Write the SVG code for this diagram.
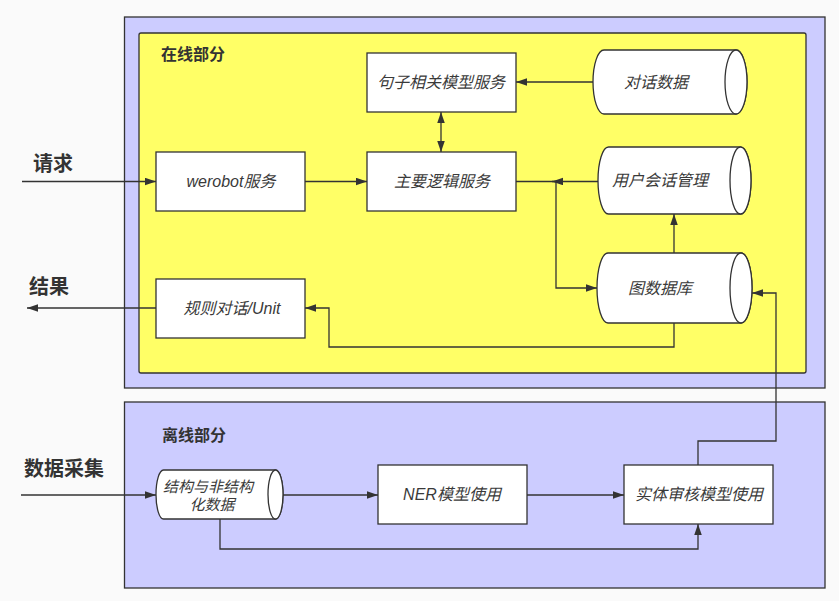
<svg xmlns="http://www.w3.org/2000/svg" width="839" height="601" viewBox="0 0 839 601">
  <defs>
    <style>
      .container { fill: #CCCCFF; stroke: #333333; stroke-width: 1.3; }
      .inner { fill: #FFFF66; stroke: #333333; stroke-width: 1.3; }
      .box { fill: #FFFFFF; stroke: #333333; stroke-width: 1.3; }
      .edge { fill: none; stroke: #333333; stroke-width: 1.3; }
      .label { font-family: "Liberation Sans", "Noto Sans CJK SC", sans-serif; font-size: 16px; font-style: italic; fill: #3a3a3a; text-anchor: middle; }
      .title { font-family: "Noto Sans CJK SC", "Liberation Sans", sans-serif; font-size: 16px; font-weight: bold; fill: #333333; }
      .side { font-family: "Noto Sans CJK SC", "Liberation Sans", sans-serif; font-size: 20px; font-weight: bold; fill: #333333; }
    </style>
    <marker id="arrow" markerUnits="userSpaceOnUse" markerWidth="12" markerHeight="8" refX="11" refY="3.75" orient="auto-start-reverse">
      <path d="M0,0 L11,3.75 L0,7.5 Z" fill="#333333"/>
    </marker>
  </defs>

  <rect x="0" y="0" width="839" height="601" fill="#FAFAFA"/>

  <!-- containers -->
  <g id="online-container">
    <rect class="container" x="124.5" y="17" width="700.5" height="371"/>
    <rect class="inner" x="139" y="33" width="667" height="340" rx="2" ry="2"/>
    <text class="title" x="161" y="60">在线部分</text>
  </g>
  <g id="offline-container">
    <rect class="container" x="124.5" y="402" width="700.5" height="186"/>
    <text class="title" x="162" y="441">离线部分</text>
  </g>

  <!-- side labels -->
  <g id="label-request"><text class="side" x="33" y="171">请求</text></g>
  <g id="label-result"><text class="side" x="29" y="294">结果</text></g>
  <g id="label-collect"><text class="side" x="24" y="476">数据采集</text></g>

  <!-- connectors -->
  <g id="connectors">
    <path class="edge" d="M22,181.5 L156,181.5" marker-end="url(#arrow)"/>
    <path class="edge" d="M305,181.5 L367,181.5" marker-end="url(#arrow)"/>
    <path class="edge" d="M441,112 L441,152" marker-start="url(#arrow)" marker-end="url(#arrow)"/>
    <path class="edge" d="M593,82 L516,82" marker-end="url(#arrow)"/>
    <path class="edge" d="M598,181.5 L552,181.5" marker-end="url(#arrow)"/>
    <path class="edge" d="M516,181.5 L556,181.5 L556,288 L597,288" marker-end="url(#arrow)"/>
    <path class="edge" d="M674,253 L674,214" marker-end="url(#arrow)"/>
    <path class="edge" d="M674,323 L674,347 L329,347 L329,308 L305,308" marker-end="url(#arrow)"/>
    <path class="edge" d="M156,308 L27,308" marker-end="url(#arrow)"/>
    <path class="edge" d="M698,465 L698,441 L776,441 L776,293 L752,293" marker-end="url(#arrow)"/>
    <path class="edge" d="M21,495 L156,495" marker-end="url(#arrow)"/>
    <path class="edge" d="M283,495 L378,495" marker-end="url(#arrow)"/>
    <path class="edge" d="M527,495 L624,495" marker-end="url(#arrow)"/>
    <path class="edge" d="M220,519 L220,549 L698,549 L698,524" marker-end="url(#arrow)"/>
  </g>

  <!-- nodes -->
  <g id="sentence-model">
    <rect class="box" x="367" y="53" width="149" height="59"/>
    <text class="label" x="441" y="88">句子相关模型服务</text>
  </g>
  <g id="werobot">
    <rect class="box" x="156" y="152" width="149" height="59"/>
    <text class="label" x="231" y="187">werobot服务</text>
  </g>
  <g id="main-logic">
    <rect class="box" x="367" y="152" width="149" height="59"/>
    <text class="label" x="442" y="187">主要逻辑服务</text>
  </g>
  <g id="rule-dialog">
    <rect class="box" x="156" y="279" width="149" height="59"/>
    <text class="label" x="232" y="314">规则对话/Unit</text>
  </g>
  <g id="dialog-data">
    <path class="box" d="M604,50 L736,50 A11,32 0 0 1 736,114 L604,114 A11,32 0 0 1 604,50 Z"/>
    <ellipse class="box" cx="736" cy="82" rx="11" ry="32"/>
    <text class="label" x="656" y="88">对话数据</text>
  </g>
  <g id="session-mgmt">
    <path class="box" d="M608.5,147 L740.5,147 A10.5,33.5 0 0 1 740.5,214 L608.5,214 A10.5,33.5 0 0 1 608.5,147 Z"/>
    <ellipse class="box" cx="740.5" cy="180.5" rx="10.5" ry="33.5"/>
    <text class="label" x="660" y="186">用户会话管理</text>
  </g>
  <g id="graph-db">
    <path class="box" d="M608,253 L741,253 A11,35 0 0 1 741,323 L608,323 A11,35 0 0 1 608,253 Z"/>
    <ellipse class="box" cx="741" cy="288" rx="11" ry="35"/>
    <text class="label" x="660" y="294">图数据库</text>
  </g>
  <g id="raw-data">
    <path class="box" d="M163.5,470 L275.5,470 A7.5,24.5 0 0 1 275.5,519 L163.5,519 A7.5,24.5 0 0 1 163.5,470 Z"/>
    <ellipse class="box" cx="275.5" cy="494.5" rx="7.5" ry="24.5"/>
    <text class="label" x="208" y="492" style="font-size:15px">结构与非结构</text>
    <text class="label" x="212" y="510" style="font-size:15px">化数据</text>
  </g>
  <g id="ner-model">
    <rect class="box" x="378" y="465" width="149" height="59"/>
    <text class="label" x="452" y="500">NER模型使用</text>
  </g>
  <g id="entity-review">
    <rect class="box" x="624" y="465" width="149" height="59"/>
    <text class="label" x="699" y="500">实体审核模型使用</text>
  </g>
</svg>
